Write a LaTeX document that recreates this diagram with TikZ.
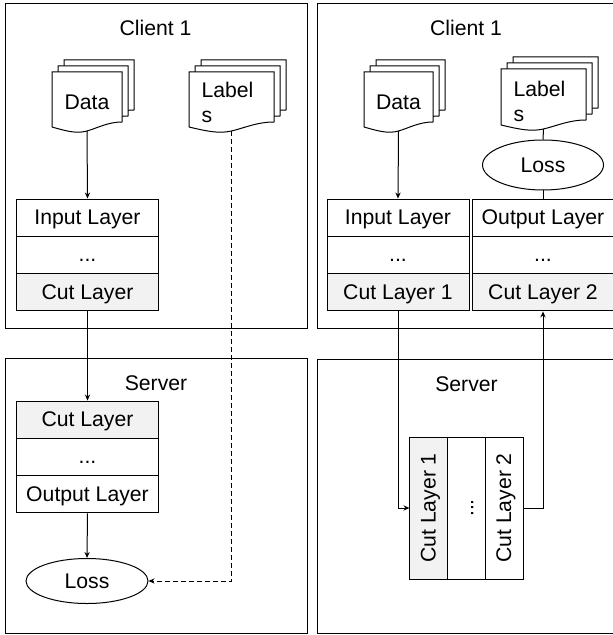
\documentclass[tikz,border=0pt]{standalone}
\usepackage{fontspec}
\setmainfont{Liberation Sans}
\usetikzlibrary{arrows.meta,shapes.geometric}

\definecolor{cutgray}{RGB}{242,242,242}
\tikzset{
	>={Stealth[length=3pt,width=2.6pt]},
	layer/.style={draw, minimum width=71pt, minimum height=18.65pt, inner sep=0pt, text height=7.8pt, text depth=1pt},
	cutlayer/.style={layer, fill=cutgray},
	loss/.style={draw, ellipse, inner sep=0pt},
	title/.style={inner sep=0pt},
	doctext/.style={inner sep=0pt, anchor=north west, align=left},
}
\newcommand{\docpage}[2]{%
	\draw[fill=white] (0,0) -- (#1,0) -- (#1,#2-5) .. controls ({0.8*#1},#2-5) and ({0.65*#1},#2+1) .. ({0.5*#1},#2+4) .. controls ({0.35*#1},#2+7) and ({0.2*#1},#2+4) .. (0,#2) -- cycle;}
\newcommand{\docstack}[4]{%
	\foreach \d in {2,1,0} {
		\begin{scope}[shift={(#1+6*\d,#2-6*\d)}]
			\docpage{#3}{#4}
		\end{scope}
	}}

\begin{document}
\begin{tikzpicture}[x=0.5pt, y=-0.5pt, font=\fontsize{10.6}{12.4}\selectfont, line width=0.5pt]
	\clip (0,0) rectangle (613,635);

	\draw (5,4) rectangle (307,328);
	\draw (5,358) rectangle (307,633);
	\draw (317,4) rectangle (640,328);
	\draw (317,359) rectangle (640,633);

	\node[title] (clientL) at (155.5,28) {Client 1};
	\node[title] (serverL) at (156,383.5) {Server};
	\node[title] (clientR) at (466,28) {Client 1};
	\node[title] (serverR) at (466.5,384) {Server};

	\docstack{52}{72}{70}{55}
	\node[title] (dataLtext) at (87,102) {Data};
	\coordinate (dataL) at (87,131);
	\docstack{189}{72}{85}{55}
	\node[doctext] (lblLtext) at (201,81.5) {Label\\s};
	\coordinate (lblL) at (231.5,131);

	\node[layer] (cin) at (87.5,217.7) {Input Layer};
	\node[layer] (cdots) at (87.5,255) {...};
	\node[cutlayer] (ccut) at (87.5,292.3) {Cut Layer};

	\node[cutlayer] (scut) at (87.5,419.7) {Cut Layer};
	\node[layer] (sdots) at (87.5,457) {...};
	\node[layer] (sout) at (87.5,494.3) {Output Layer};
	\node[loss, minimum width=61pt, minimum height=22.5pt] (sloss) at (87,581) {Loss};

	\draw [->] (dataL) -- (cin.north);
	\draw [->] (ccut.south) -- (scut.north);
	\draw [->] (sout.south) -- (sloss.north);
	\draw [->, dash pattern=on 2.5pt off 1.5pt] (lblL) |- (sloss.east);

	\docstack{364}{72}{69}{55}
	\node[title] (dataRtext) at (398.5,102) {Data};
	\coordinate (dataR) at (398.5,131);
	\docstack{501}{69}{85}{56}
	\node[doctext] (lblRtext) at (513,81) {Label\\s};
	\coordinate (lblR) at (543.5,129);
	\node[loss, minimum width=60.5pt, minimum height=25pt] (rloss) at (543,165) {Loss};

	\node[layer] (rin) at (398,217.7) {Input Layer};
	\node[layer] (rdots1) at (398,255) {...};
	\node[cutlayer] (rcut1) at (398,292.3) {Cut Layer 1};
	\node[layer] (rout) at (543,217.7) {Output Layer};
	\node[layer] (rdots2) at (543,255) {...};
	\node[cutlayer] (rcut2) at (543,292.3) {Cut Layer 2};

	\node[cutlayer, rotate=90, minimum height=18.85pt] (scol1) at (428.8,508) {Cut Layer 1};
	\node[layer, rotate=90, minimum height=18.85pt] (scol2) at (466.5,508) {...};
	\node[layer, rotate=90, minimum height=18.85pt] (scol3) at (504.2,508) {Cut Layer 2};

	\draw [->] (dataR) -- (rin.north);
	\draw (lblR) -- (rloss.north);
	\draw (rloss.south) -- (rout.north);
	\draw [->] (rcut1.south) |- (scol1.north);
	\draw [->] (scol3.south) -| (rcut2.south);
\end{tikzpicture}
\end{document}
